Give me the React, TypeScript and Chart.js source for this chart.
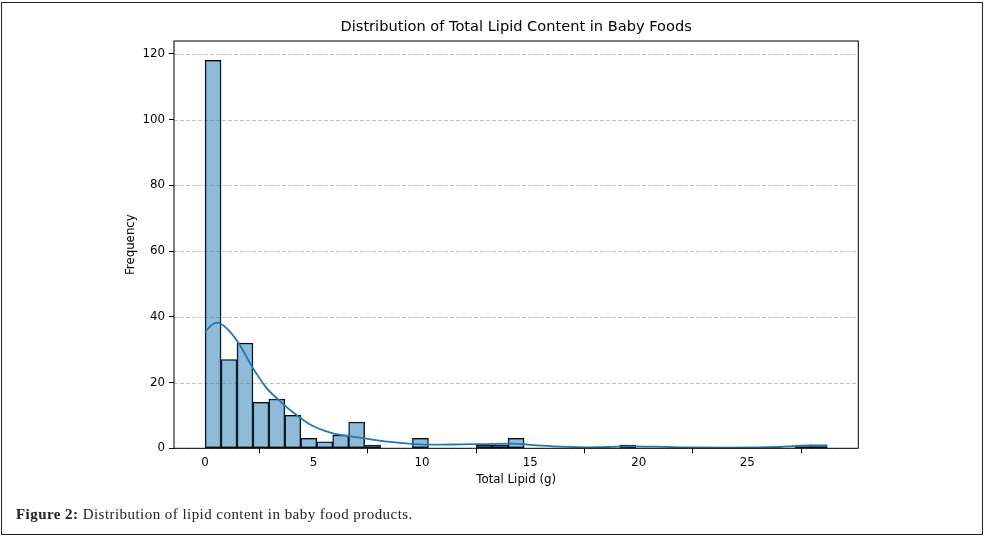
import React, { useEffect, useRef } from "react";
import { Chart, registerables } from "chart.js";

Chart.register(...registerables);

// ---- data ----
const DATA_MIN = 0;
const DATA_MAX = 28.69;
const BIN_COUNT = 39;
const binCounts = [
  118, 27, 32, 14, 15, 10, 3, 2, 4, 8, 1,
  0, 0, 3,
  0, 0, 0, 1, 1, 3,
  0, 0, 0, 0, 0, 0, 1,
  0, 0, 0, 0, 0, 0, 0, 0, 0, 0,
  1, 1,
];
const kdeX = [0, 0.25, 0.56, 1.1, 1.56, 2.18, 2.79, 3.41, 4.02, 4.64, 5.0, 5.56, 5.94, 6.64, 7.37, 8.41, 9.64, 10.7, 11.8, 13.0, 14.1, 15.3, 16.4, 17.6, 18.6, 19.6, 20.7, 21.9, 24.2, 26.5, 27.3, 28.0, 28.69];
const kdeY = [35.3, 37.2, 38.2, 35.8, 31.8, 24.7, 18.7, 14.6, 11.1, 8.1, 6.7, 5.2, 4.5, 3.7, 3.0, 2.0, 1.3, 1.1, 1.2, 1.3, 1.4, 0.9, 0.5, 0.3, 0.4, 0.6, 0.5, 0.3, 0.2, 0.4, 0.7, 0.85, 0.85];
const xTicks = [0, 5, 10, 15, 20, 25];
const yTicks = [0, 20, 40, 60, 80, 100, 120];
const titleText = "Distribution of Total Lipid Content in Baby Foods";
const xLabel = "Total Lipid (g)";
const yLabel = "Frequency";

const FONT = "'DejaVu Sans', sans-serif";

export default function App() {
  const ref = useRef<HTMLCanvasElement | null>(null);

  useEffect(() => {
    const canvas = ref.current;
    if (!canvas) return;
    const binWidth = (DATA_MAX - DATA_MIN) / BIN_COUNT;
    const barData = binCounts.map((c, i) => ({ x: DATA_MIN + (i + 0.5) * binWidth, y: c }));
    const kdeData = kdeX.map((x, i) => ({ x, y: kdeY[i] }));
    const span = DATA_MAX - DATA_MIN;
    const xMin = DATA_MIN - span * 0.05;
    const xMax = DATA_MAX + span * 0.05;
    const yMax = Math.max(...binCounts) * 1.05;

    const gridPlugin = {
      id: "dashGrid",
      beforeDatasetsDraw(chart: any) {
        const { ctx, chartArea, scales } = chart;
        ctx.save();
        ctx.strokeStyle = "#c4c4c4";
        ctx.lineWidth = 1;
        ctx.setLineDash([4, 2]);
        for (const v of yTicks) {
          const y = Math.round(scales.y.getPixelForValue(v)) + 0.5;
          ctx.beginPath();
          ctx.moveTo(chartArea.left, y);
          ctx.lineTo(chartArea.right, y);
          ctx.stroke();
        }
        ctx.restore();
      },
      afterDatasetsDraw(chart: any) {
        const { ctx, chartArea } = chart;
        ctx.save();
        ctx.strokeStyle = "#000";
        ctx.lineWidth = 1;
        ctx.strokeRect(chartArea.left, chartArea.top, chartArea.right - chartArea.left, chartArea.bottom - chartArea.top);
        // title centred over the plot area
        ctx.fillStyle = "#000";
        ctx.font = `14.6px ${FONT}`;
        ctx.textAlign = "center";
        ctx.textBaseline = "middle";
        ctx.fillText(titleText, (chartArea.left + chartArea.right) / 2, 27);
        ctx.restore();
      },
    };

    const chart = new Chart(canvas, {
      type: "bar",
      data: {
        datasets: [
          {
            type: "line",
            data: kdeData,
            borderColor: "#1f77b4",
            borderWidth: 1.8,
            pointRadius: 0,
            cubicInterpolationMode: "monotone",
            fill: false,
            order: 0,
          } as any,
          {
            type: "bar",
            data: barData,
            backgroundColor: "rgba(31,119,180,0.5)",
            borderColor: "#000",
            borderWidth: 0.85,
            borderSkipped: false,
            barPercentage: 1,
            categoryPercentage: 1,
            order: 1,
          } as any,
        ],
      },
      options: {
        responsive: false,
        animation: false,
        devicePixelRatio: 1,
        layout: { padding: { left: 119.6, right: 125.7, top: 41, bottom: 47.9 } },
        plugins: {
          legend: { display: false },
          tooltip: { enabled: false },
          title: { display: false },
        },
        scales: {
          x: {
            type: "linear",
            min: xMin,
            max: xMax,
            offset: false,
            afterBuildTicks: (s: any) => { s.ticks = xTicks.map((v) => ({ value: v })); },
            afterFit: (s: any) => { s.height = 42.8; },
            grid: { display: true, drawOnChartArea: false, drawTicks: true, tickLength: 5, tickColor: "#000", tickWidth: 1 },
            border: { display: false },
            ticks: { color: "#000", font: { family: FONT, size: 11.8 }, padding: 3, maxRotation: 0, autoSkip: false },
            title: { display: true, text: xLabel, color: "#000", font: { family: FONT, size: 11.8 }, padding: { top: 4, bottom: 4 } },
          },
          y: {
            type: "linear",
            min: 0,
            max: yMax,
            afterBuildTicks: (s: any) => { s.ticks = yTicks.map((v) => ({ value: v })); },
            afterFit: (s: any) => { s.width = 54.4; },
            grid: { display: true, drawOnChartArea: false, drawTicks: true, tickLength: 5, tickColor: "#000", tickWidth: 1 },
            border: { display: false },
            ticks: { color: "#000", font: { family: FONT, size: 11.8 }, padding: 4, autoSkip: false },
            title: { display: true, text: yLabel, color: "#000", font: { family: FONT, size: 11.8 }, padding: { top: 4, bottom: 4 } },
          },
        },
      } as any,
      plugins: [gridPlugin],
    });
    return () => chart.destroy();
  }, []);

  return (
    <div style={{ position: "absolute", left: 0, top: 0, width: 984, height: 539, background: "#fff", overflow: "hidden" }}>
      <canvas ref={ref} width={984} height={539} style={{ position: "absolute", left: 0, top: 0, width: 984, height: 539 }} />
      <div
        style={{
          position: "absolute",
          left: 0.5,
          top: 1.5,
          width: 980,
          height: 531,
          border: "1.5px solid #222",
          pointerEvents: "none",
        }}
      />
      <div
        style={{
          position: "absolute",
          left: 16,
          top: 507,
          fontFamily: "'Liberation Serif', serif",
          fontSize: 15,
          lineHeight: "15px",
          letterSpacing: "0.45px",
          color: "#222",
          whiteSpace: "nowrap",
        }}
      >
        <b>Figure 2:</b> Distribution of lipid content in baby food products.
      </div>
    </div>
  );
}
